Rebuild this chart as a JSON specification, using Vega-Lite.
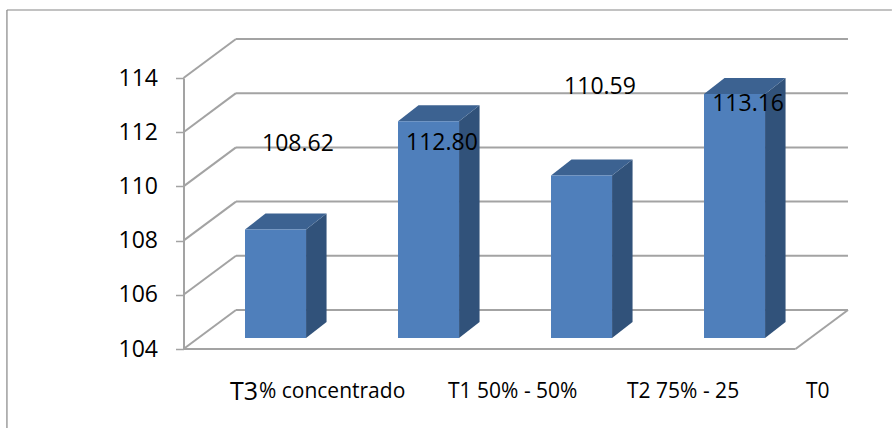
{
"$schema":"https://vega.github.io/schema/vega-lite/v6.json",
"width":612,"height":271,
"autosize":{"type":"none"},
"padding":{"left":183.5,"top":78,"right":96.5,"bottom":79},
"background":"white",
"config":{"view":{"stroke":null},"font":"Open Sans"},
"datasets":{
"bars":[
{"category":"T3% concentrado","value":108,"start":0.402,"end":0.801},
{"category":"T1 50% - 50%","value":112,"start":1.402,"end":1.801},
{"category":"T2 75% - 25","value":110,"start":2.402,"end":2.801},
{"category":"T0","value":113,"start":3.402,"end":3.801}],
"side":[
{"category":"T3% concentrado","pos":0.801,"low":104,"high":108},
{"category":"T3% concentrado","pos":0.935,"low":104.59,"high":108.59},
{"category":"T1 50% - 50%","pos":1.801,"low":104,"high":112},
{"category":"T1 50% - 50%","pos":1.935,"low":104.59,"high":112.59},
{"category":"T2 75% - 25","pos":2.801,"low":104,"high":110},
{"category":"T2 75% - 25","pos":2.935,"low":104.59,"high":110.59},
{"category":"T0","pos":3.801,"low":104,"high":113},
{"category":"T0","pos":3.935,"low":104.59,"high":113.59}],
"top":[
{"category":"T3% concentrado","pos":0.402,"low":108,"high":108},
{"category":"T3% concentrado","pos":0.536,"low":108,"high":108.59},
{"category":"T3% concentrado","pos":0.801,"low":108,"high":108.59},
{"category":"T3% concentrado","pos":0.935,"low":108.59,"high":108.59},
{"category":"T1 50% - 50%","pos":1.402,"low":112,"high":112},
{"category":"T1 50% - 50%","pos":1.536,"low":112,"high":112.59},
{"category":"T1 50% - 50%","pos":1.801,"low":112,"high":112.59},
{"category":"T1 50% - 50%","pos":1.935,"low":112.59,"high":112.59},
{"category":"T2 75% - 25","pos":2.402,"low":110,"high":110},
{"category":"T2 75% - 25","pos":2.536,"low":110,"high":110.59},
{"category":"T2 75% - 25","pos":2.801,"low":110,"high":110.59},
{"category":"T2 75% - 25","pos":2.935,"low":110.59,"high":110.59},
{"category":"T0","pos":3.402,"low":113,"high":113},
{"category":"T0","pos":3.536,"low":113,"high":113.59},
{"category":"T0","pos":3.801,"low":113,"high":113.59},
{"category":"T0","pos":3.935,"low":113.59,"high":113.59}],
"wall":[
{"a":0,"b":0.343,"c":104,"d":105.44},{"a":0.343,"b":4.343,"c":105.44,"d":105.44},
{"a":0,"b":0.343,"c":106,"d":107.44},{"a":0.343,"b":4.343,"c":107.44,"d":107.44},
{"a":0,"b":0.343,"c":108,"d":109.44},{"a":0.343,"b":4.343,"c":109.44,"d":109.44},
{"a":0,"b":0.343,"c":110,"d":111.44},{"a":0.343,"b":4.343,"c":111.44,"d":111.44},
{"a":0,"b":0.343,"c":112,"d":113.44},{"a":0.343,"b":4.343,"c":113.44,"d":113.44},
{"a":0,"b":0.343,"c":114,"d":115.44},{"a":0.343,"b":4.343,"c":115.44,"d":115.44},
{"a":0,"b":4,"c":104,"d":104},{"a":4,"b":4.343,"c":104,"d":105.44}],
"frame":[
{"a":-1.154,"b":-1.154,"c":116.51,"d":101.08},
{"a":-1.154,"b":4.63,"c":116.51,"d":116.51}],
"values":[
{"text":"108.62","pos":0.748,"level":111.56},
{"text":"112.80","pos":1.689,"level":111.6},
{"text":"110.59","pos":2.722,"level":113.67},
{"text":"113.16","pos":3.69,"level":113.04}],
"names":[
{"text":"% concentrado","pos":0.493,"level":102.42},
{"text":"T1 50% - 50%","pos":1.729,"level":102.42},
{"text":"T2 75% - 25","pos":2.899,"level":102.42},
{"text":"T0","pos":4.069,"level":102.42}],
"lead":[{"text":"T3","pos":0.304,"level":102.42}]
},
"layer":[
{"data":{"name":"frame"},"mark":{"type":"rule","color":"#868686","strokeWidth":1.2},
 "encoding":{"x":{"field":"a","type":"quantitative","scale":{"domain":[0,4],"nice":false,"zero":false},"axis":null},"x2":{"field":"b"},
 "y":{"field":"c","type":"quantitative","scale":{"domain":[104,114],"nice":false,"zero":false},
   "axis":{"values":[104,106,108,110,112,114],"title":null,"grid":false,"domain":true,"domainColor":"#A3A3A3","domainWidth":2,"ticks":true,"tickColor":"#A3A3A3","tickWidth":1.5,"tickSize":8,"labelPadding":18,"labelFontSize":23,"labelColor":"#000000","labelFont":"Open Sans"}},
 "y2":{"field":"d"}}},
{"data":{"name":"wall"},"mark":{"type":"rule","color":"#A3A3A3","strokeWidth":2},
 "encoding":{"x":{"field":"a","type":"quantitative"},"x2":{"field":"b"},"y":{"field":"c","type":"quantitative"},"y2":{"field":"d"}}},
{"data":{"name":"side"},"mark":{"type":"area","color":"#31527A","orient":"vertical","yOffset":-11,"y2Offset":-11},
 "encoding":{"x":{"field":"pos","type":"quantitative"},"y":{"field":"high","type":"quantitative"},"y2":{"field":"low"},"detail":{"field":"category"}}},
{"data":{"name":"top"},"mark":{"type":"area","color":"#3C6291","orient":"vertical","yOffset":-11,"y2Offset":-11},
 "encoding":{"x":{"field":"pos","type":"quantitative"},"y":{"field":"high","type":"quantitative"},"y2":{"field":"low"},"detail":{"field":"category"}}},
{"data":{"name":"bars"},"mark":{"type":"rect","color":"#4F7FBB","yOffset":-11,"y2Offset":-11},
 "encoding":{"x":{"field":"start","type":"quantitative"},"x2":{"field":"end"},"y":{"field":"value","type":"quantitative"},"y2":{"datum":104}}},
{"data":{"name":"values"},"mark":{"type":"text","fontSize":23,"font":"Open Sans","color":"#000000","align":"center","baseline":"middle"},
 "encoding":{"x":{"field":"pos","type":"quantitative"},"y":{"field":"level","type":"quantitative"},"text":{"field":"text"}}},
{"data":{"name":"names"},"mark":{"type":"text","fontSize":21,"font":"Open Sans","color":"#000000","align":"left","baseline":"middle"},
 "encoding":{"x":{"field":"pos","type":"quantitative"},"y":{"field":"level","type":"quantitative"},"text":{"field":"text"}}},
{"data":{"name":"lead"},"mark":{"type":"text","fontSize":25,"font":"Open Sans","color":"#000000","align":"left","baseline":"middle"},
 "encoding":{"x":{"field":"pos","type":"quantitative"},"y":{"field":"level","type":"quantitative"},"text":{"field":"text"}}}
]
}
